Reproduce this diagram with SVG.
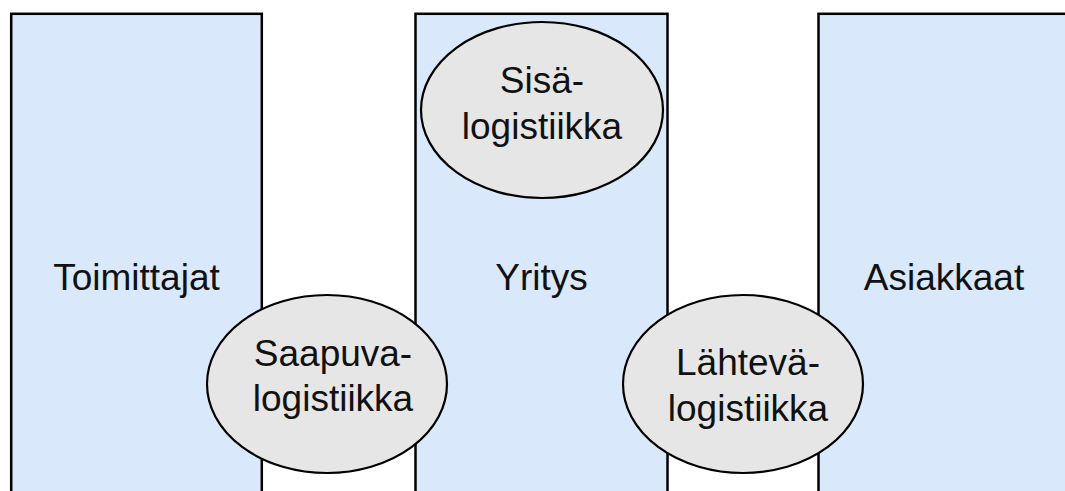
<svg xmlns="http://www.w3.org/2000/svg" width="1065" height="491" viewBox="0 0 1065 491">
  <style>
    .band { fill: #dae8fc; stroke: #000; stroke-width: 2.5; }
    .flow { fill: #e6e6e6; stroke: #000; stroke-width: 2.2; }
    .lbl { font-family: "Liberation Sans", Arial, sans-serif; font-size: 37px; fill: #111; text-anchor: middle; }
  </style>
  <rect width="1065" height="491" fill="#fff"/>

  <g id="toimittajat">
    <rect class="band" x="11.2" y="13.8" width="250.6" height="500"/>
    <text class="lbl" x="136.5" y="290">Toimittajat</text>
  </g>

  <g id="yritys">
    <rect class="band" x="415.5" y="13.8" width="252" height="500"/>
    <text class="lbl" x="541.5" y="290">Yritys</text>
  </g>

  <g id="asiakkaat">
    <rect class="band" x="818.5" y="13.8" width="270" height="500"/>
    <text class="lbl" x="944" y="290">Asiakkaat</text>
  </g>

  <g id="sisalogistiikka">
    <ellipse class="flow" cx="542" cy="110" rx="121" ry="88"/>
    <text class="lbl" x="542" y="93">Sisä-</text>
    <text class="lbl" x="542" y="138.5">logistiikka</text>
  </g>

  <g id="saapuvalogistiikka">
    <ellipse class="flow" cx="327" cy="384" rx="120" ry="89"/>
    <text class="lbl" x="333" y="365.5">Saapuva-</text>
    <text class="lbl" x="333" y="411">logistiikka</text>
  </g>

  <g id="lahtevalogistiikka">
    <ellipse class="flow" cx="743" cy="384" rx="120" ry="89"/>
    <text class="lbl" x="748" y="375">Lähtevä-</text>
    <text class="lbl" x="748" y="420.5">logistiikka</text>
  </g>

  <g id="connectors"/>
</svg>
